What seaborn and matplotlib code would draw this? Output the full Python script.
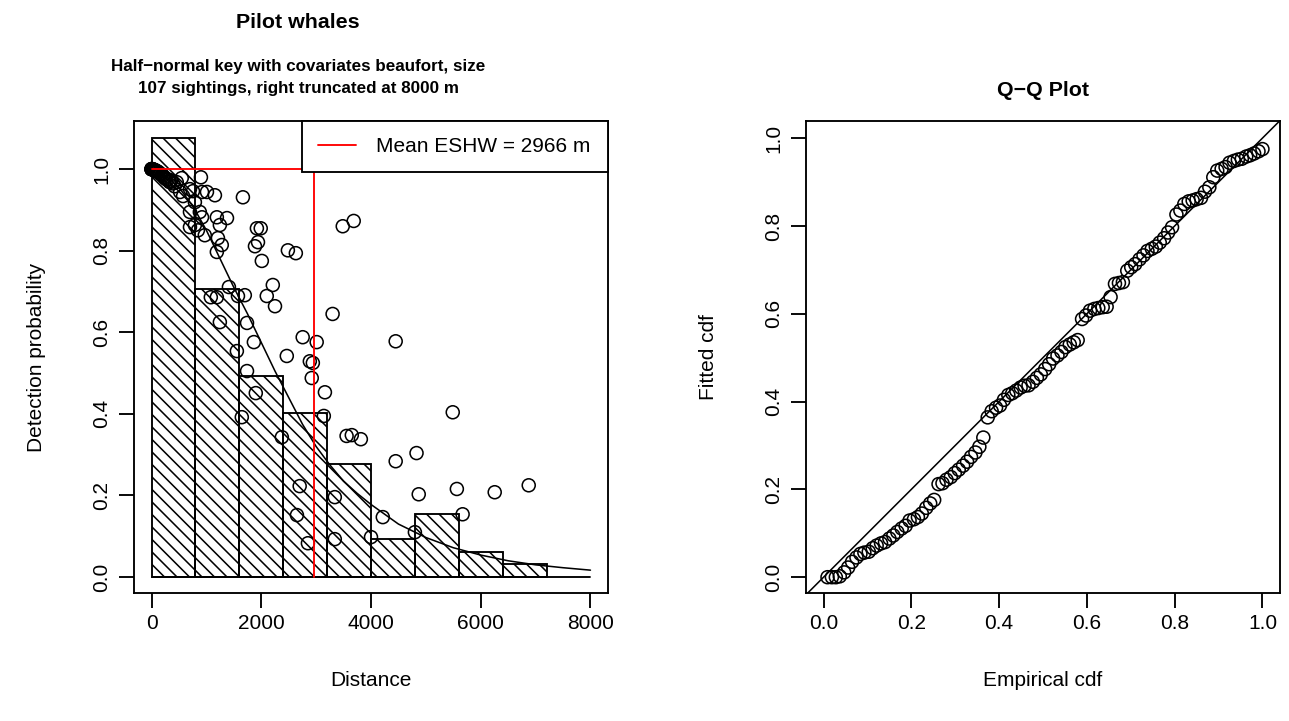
import matplotlib
matplotlib.use("Agg")
import matplotlib.pyplot as plt
import seaborn as sns

# histogram of scaled detections (bin width 800 m)
bin_left = [0, 800, 1600, 2400, 3200, 4000, 4800, 5600, 6400]
bin_height = [1.076, 0.706, 0.492, 0.402, 0.277, 0.093, 0.154, 0.061, 0.032]

# average fitted detection function
curve_dist = [0, 250, 500, 750, 1000, 1250, 1500, 1750, 2000, 2250, 2500, 2750, 3000,
              3250, 3500, 3750, 4000, 4500, 5000, 5500, 6000, 6500, 7000, 7500, 8000]
curve_prob = [1.0, 0.985, 0.955, 0.91, 0.85, 0.78, 0.71, 0.645, 0.575, 0.505, 0.44, 0.375, 0.32,
              0.275, 0.235, 0.205, 0.178, 0.13, 0.097, 0.072, 0.054, 0.04, 0.03, 0.023, 0.017]

# per-sighting detection probabilities
sight_dist = [0, 0, 0, 0, 10, 15, 25, 35, 45, 55, 70, 80, 95, 115, 130, 150, 165, 185, 210, 230,
              245, 270, 300, 320, 335, 360, 390, 420,
              460, 550, 520, 575, 700, 755, 900, 920, 1010, 1155, 790, 1665, 700, 880, 920, 1190,
              1375, 1245, 700, 790, 845, 970, 1210, 1280, 1190, 1920, 1990, 1940, 1885, 2010,
              2485, 2630, 2210, 2100, 2250, 1700, 3485, 3685, 3300, 1740, 1865, 2755, 3010, 2465,
              2885, 2940, 2920, 3160, 1740, 1900, 1645, 3140, 2375, 3555, 3650, 3815, 4450, 5490,
              4450, 4830, 4870, 5565, 6255, 6875, 5670, 4215, 4800, 4000, 3340, 3340, 2700, 2650,
              2850, 1410, 1080, 1190, 1575, 1245, 1555]
sight_prob = [1.0, 1.0, 1.0, 1.0, 1.0, 1.0, 0.999, 0.999, 0.998, 0.998, 0.997, 0.996, 0.995, 0.994,
              0.992, 0.99, 0.988, 0.986, 0.984, 0.98, 0.978, 0.975, 0.975, 0.97, 0.968, 0.972,
              0.965, 0.958,
              0.968, 0.978, 0.944, 0.934, 0.951, 0.946, 0.98, 0.944, 0.944, 0.936, 0.919, 0.931,
              0.895, 0.895, 0.882, 0.882, 0.88, 0.863, 0.858, 0.863, 0.85, 0.838, 0.831, 0.814,
              0.797, 0.855, 0.855, 0.821, 0.811, 0.775, 0.801, 0.794, 0.716, 0.689, 0.664, 0.691,
              0.86, 0.873, 0.645, 0.623, 0.576, 0.588, 0.576, 0.542, 0.529, 0.525, 0.488, 0.453,
              0.505, 0.451, 0.392, 0.395, 0.343, 0.346, 0.348, 0.338, 0.578, 0.404, 0.284, 0.304,
              0.203, 0.216, 0.208, 0.225, 0.154, 0.147, 0.11, 0.098, 0.196, 0.093, 0.223, 0.152,
              0.083, 0.711, 0.686, 0.686, 0.689, 0.625, 0.554]

eshw = 2966

# Q-Q plot
qq_emp = [0.009, 0.019, 0.028, 0.037, 0.047, 0.056, 0.065, 0.075, 0.084, 0.093,
          0.103, 0.112, 0.121, 0.131, 0.140, 0.150, 0.159, 0.168, 0.178, 0.187,
          0.196, 0.206, 0.215, 0.224, 0.234, 0.243, 0.252, 0.262, 0.271, 0.280,
          0.290, 0.299, 0.308, 0.318, 0.327, 0.336, 0.346, 0.355, 0.364, 0.374,
          0.383, 0.393, 0.402, 0.411, 0.421, 0.430, 0.439, 0.449, 0.458, 0.467,
          0.477, 0.486, 0.495, 0.505, 0.514, 0.523, 0.533, 0.542, 0.551, 0.561,
          0.570, 0.579, 0.589, 0.598, 0.607, 0.617, 0.626, 0.636, 0.645, 0.654,
          0.664, 0.673, 0.682, 0.692, 0.701, 0.710, 0.720, 0.729, 0.738, 0.748,
          0.757, 0.766, 0.776, 0.785, 0.794, 0.804, 0.813, 0.822, 0.832, 0.841,
          0.850, 0.860, 0.869, 0.879, 0.888, 0.897, 0.907, 0.916, 0.925, 0.935,
          0.944, 0.953, 0.963, 0.972, 0.981, 0.991, 1.0]
qq_fit = [0.0, 0.0, 0.0, 0.002, 0.011, 0.022, 0.035, 0.045, 0.053, 0.056,
          0.058, 0.066, 0.072, 0.077, 0.080, 0.088, 0.095, 0.103, 0.111, 0.117,
          0.129, 0.132, 0.137, 0.145, 0.158, 0.168, 0.176, 0.212, 0.214, 0.222,
          0.228, 0.237, 0.245, 0.254, 0.263, 0.274, 0.284, 0.297, 0.318, 0.364,
          0.378, 0.386, 0.391, 0.404, 0.415, 0.419, 0.425, 0.432, 0.436, 0.437,
          0.445, 0.454, 0.462, 0.474, 0.485, 0.498, 0.505, 0.513, 0.524, 0.530,
          0.535, 0.540, 0.588, 0.596, 0.607, 0.611, 0.613, 0.615, 0.616, 0.638,
          0.668, 0.670, 0.672, 0.698, 0.706, 0.713, 0.724, 0.733, 0.743, 0.748,
          0.753, 0.762, 0.772, 0.785, 0.797, 0.826, 0.835, 0.850, 0.856, 0.858,
          0.861, 0.864, 0.878, 0.888, 0.911, 0.926, 0.930, 0.934, 0.944, 0.948,
          0.951, 0.953, 0.958, 0.961, 0.965, 0.970, 0.975]

sns.set_style("white")
plt.rcParams['font.family'] = ['Liberation Sans', 'DejaVu Sans']
plt.rcParams['hatch.linewidth'] = 1.5
plt.rcParams['axes.linewidth'] = 1.8
plt.rcParams['text.color'] = 'black'
plt.rcParams['axes.labelcolor'] = 'black'
plt.rcParams['xtick.color'] = 'black'
plt.rcParams['ytick.color'] = 'black'

FS = 20
DPI = 75
fig = plt.figure(figsize=(1289 / DPI, 721 / DPI), dpi=DPI)
ax1 = fig.add_axes([134 / 1289, 128 / 721, 474 / 1289, 472 / 721])
ax2 = fig.add_axes([806 / 1289, 128 / 721, 474 / 1289, 472 / 721])

# ---- left: detection function
ax1.bar(bin_left, bin_height, width=800, align='edge', fill=False, hatch='\\\\',
        edgecolor='black', linewidth=1.8)
sns.lineplot(x=curve_dist, y=curve_prob, color='black', linewidth=1.5, ax=ax1)
sns.scatterplot(x=sight_dist, y=sight_prob, marker='o', s=155, facecolor='none',
                edgecolor='black', linewidth=1.5, ax=ax1, zorder=3)
ax1.plot([0, eshw, eshw], [1, 1, 0], color='red', linewidth=1.8, zorder=4,
         label='Mean ESHW = 2966 m')
ax1.plot([0, 8000], [0, 0], color='black', linewidth=1.8, zorder=2)
ax1.set_xlim(-320, 8320)
ax1.set_ylim(-0.039, 1.118)
ax1.set_xticks([0, 2000, 4000, 6000, 8000])
ax1.set_yticks([0.0, 0.2, 0.4, 0.6, 0.8, 1.0])
ax1.set_yticklabels(['0.0', '0.2', '0.4', '0.6', '0.8', '1.0'])
ax1.set_xlabel('Distance', fontsize=FS, labelpad=37)
ax1.set_ylabel('Detection probability', fontsize=FS, labelpad=44)
leg = ax1.legend(loc='upper left', bbox_to_anchor=(0.3544, 0, 0.6456, 1), mode='expand',
                 borderaxespad=0, fancybox=False, framealpha=1, edgecolor='black',
                 fontsize=FS, handlelength=1.8, handletextpad=1.0, borderpad=0.77)
leg.get_frame().set_linewidth(1.8)
leg.set_zorder(10)

# ---- right: Q-Q plot
ax2.axline((0, 0), slope=1, color='black', linewidth=1.5)
sns.scatterplot(x=qq_emp, y=qq_fit, marker='o', s=155, facecolor='none',
                edgecolor='black', linewidth=1.5, ax=ax2, zorder=3)
ax2.set_xlim(-0.04, 1.04)
ax2.set_ylim(-0.036, 1.039)
ax2.set_xticks([0.0, 0.2, 0.4, 0.6, 0.8, 1.0])
ax2.set_xticklabels(['0.0', '0.2', '0.4', '0.6', '0.8', '1.0'])
ax2.set_yticks([0.0, 0.2, 0.4, 0.6, 0.8, 1.0])
ax2.set_yticklabels(['0.0', '0.2', '0.4', '0.6', '0.8', '1.0'])
ax2.set_xlabel('Empirical cdf', fontsize=FS, labelpad=37)
ax2.set_ylabel('Fitted cdf', fontsize=FS, labelpad=44)

for ax in (ax1, ax2):
    for s in ax.spines.values():
        s.set_color('black')
        s.set_linewidth(1.8)
    ax.tick_params(direction='out', length=14, width=1.8, labelsize=FS, pad=6,
                   color='black', labelcolor='black', bottom=True, left=True)
    ax.tick_params(axis='y', pad=8)
    for lab in ax.get_yticklabels():
        lab.set_rotation(90)
        lab.set_va('center')

fig.text(298 / 1289, 1 - 22 / 721, 'Pilot whales', ha='center', va='center',
         fontsize=20.5, fontweight='bold')
fig.text(298 / 1289, 1 - 66 / 721, 'Half\u2212normal key with covariates beaufort, size',
         ha='center', va='center', fontsize=16.3, fontweight='bold')
fig.text(298 / 1289, 1 - 88 / 721, '107 sightings, right truncated at 8000 m',
         ha='center', va='center', fontsize=16.3, fontweight='bold')
fig.text(1043 / 1289, 1 - 90 / 721, 'Q\u2212Q Plot', ha='center', va='center',
         fontsize=20.5, fontweight='bold')

fig.savefig('out.png', dpi=DPI)
